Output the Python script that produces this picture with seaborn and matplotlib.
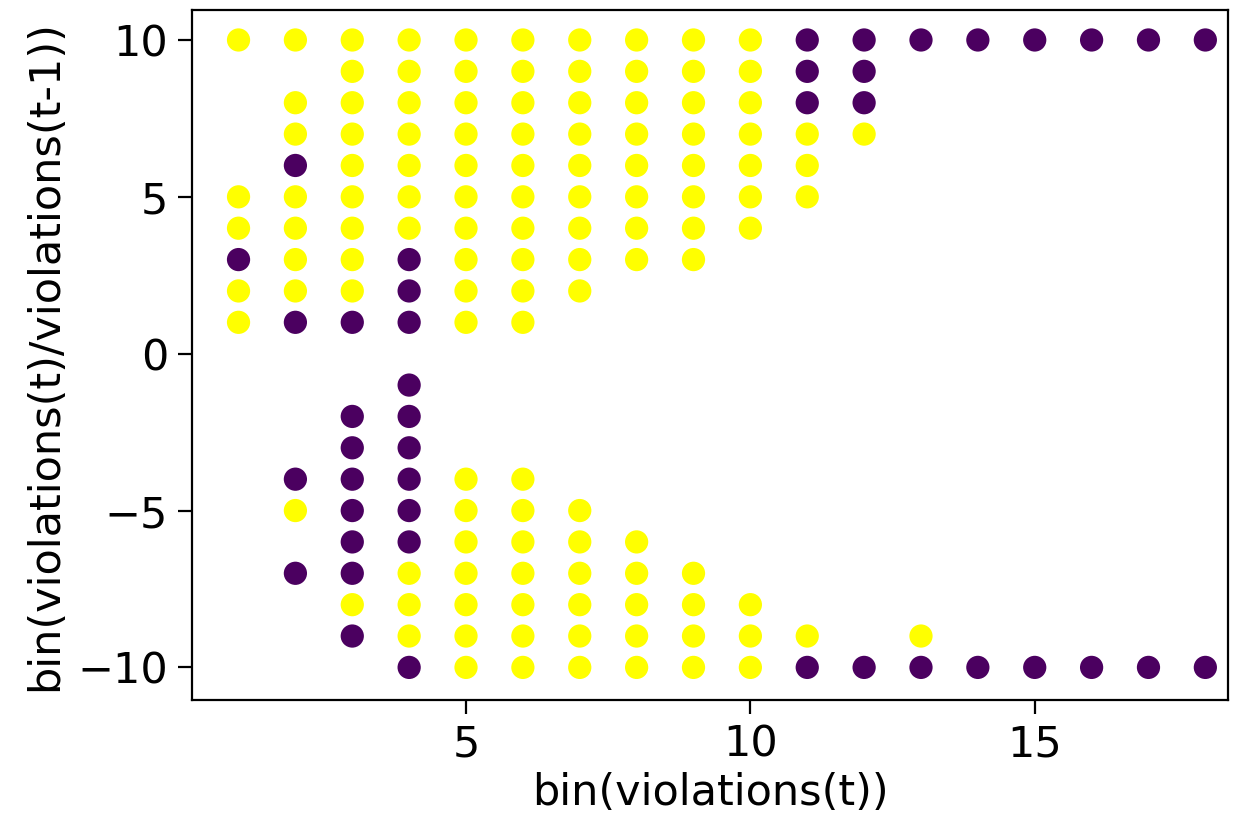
import matplotlib
matplotlib.use("Agg")
import matplotlib.pyplot as plt
import seaborn as sns
import pandas as pd

# bins on the x axis
bin_x = [1, 2, 3, 4, 5, 6, 7, 8, 9, 10, 11, 12, 13, 14, 15, 16, 17, 18]

# y values of the yellow points, one list per x bin
yellow_y = [
    [10, 5, 4, 2, 1],
    [10, 8, 7, 5, 4, 3, 2, -5],
    [10, 9, 8, 7, 6, 5, 4, 3, 2, -8],
    [10, 9, 8, 7, 6, 5, 4, -7, -8, -9],
    [10, 9, 8, 7, 6, 5, 4, 3, 2, 1, -4, -5, -6, -7, -8, -9, -10],
    [10, 9, 8, 7, 6, 5, 4, 3, 2, 1, -4, -5, -6, -7, -8, -9, -10],
    [10, 9, 8, 7, 6, 5, 4, 3, 2, -5, -6, -7, -8, -9, -10],
    [10, 9, 8, 7, 6, 5, 4, 3, -6, -7, -8, -9, -10],
    [10, 9, 8, 7, 6, 5, 4, 3, -7, -8, -9, -10],
    [10, 9, 8, 7, 6, 5, 4, -8, -9, -10],
    [7, 6, 5, -9],
    [7],
    [-9],
    [], [], [], [], [],
]

# y values of the purple points, one list per x bin
purple_y = [
    [3],
    [6, 1, -4, -7],
    [1, -2, -3, -4, -5, -6, -7, -9],
    [3, 2, 1, -1, -2, -3, -4, -5, -6, -10],
    [], [], [], [], [], [],
    [10, 9, 8, -10],
    [10, 9, 8, -10],
    [10, -10],
    [10, -10],
    [10, -10],
    [10, -10],
    [10, -10],
    [10, -10],
]

rows = []
for x, ys in zip(bin_x, yellow_y):
    for y in ys:
        rows.append((x, y, 1))
for x, ys in zip(bin_x, purple_y):
    for y in ys:
        rows.append((x, y, 0))
df = pd.DataFrame(rows, columns=["x", "y", "label"])

plt.rcParams["font.size"] = 15.5
plt.rcParams["xtick.major.size"] = 5
plt.rcParams["ytick.major.size"] = 5
fig = plt.figure(figsize=(6.19, 4.11), dpi=200)
ax = fig.add_axes([0.155, 0.148, 0.837, 0.840])

sns.scatterplot(data=df, x="x", y="y", hue="label",
                palette={0: "#4b0060", 1: "#ffff00"},
                s=70, linewidth=0, legend=False, ax=ax)

ax.set_xlim(0.18, 18.4)
ax.set_ylim(-11.05, 10.96)
ax.set_xticks([5, 10, 15])
ax.set_yticks([-10, -5, 0, 5, 10])
ax.set_xlabel("bin(violations(t))", labelpad=2)
ax.set_ylabel("bin(violations(t)/violations(t-1))", labelpad=4)

fig.savefig("out.png", dpi=200)
